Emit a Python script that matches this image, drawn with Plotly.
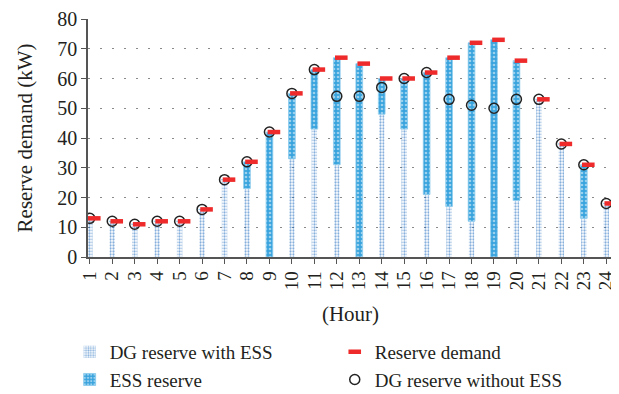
import plotly.graph_objects as go

hours = list(range(1, 25))
hour_labels = [str(h) for h in hours]
reserve_demand = [13, 12, 11, 12, 12, 16, 26, 32, 42, 55, 63, 67, 65, 60, 60, 62, 67, 72, 73, 66, 53, 38, 31, 18]
dg_without_ess = [13, 12, 11, 12, 12, 16, 26, 32, 42, 55, 63, 54, 54, 57, 60, 62, 53, 51, 50, 53, 53, 38, 31, 18]
dg_with_ess = [13, 12, 11, 12, 12, 16, 26, 23, 0, 33, 43, 31, 0, 48, 43, 21, 17, 12, 0, 19, 53, 38, 13, 18]
ess_reserve = [0, 0, 0, 0, 0, 0, 0, 9, 42, 22, 20, 36, 65, 12, 17, 41, 50, 60, 73, 47, 0, 0, 18, 0]

FONT = "Liberation Serif, Times New Roman, serif"
TXT = "#231f20"
dash_shift = 0.2

fig = go.Figure()
fig.add_trace(go.Bar(
    x=hours, y=dg_with_ess, base=0, width=0.24, name="DG reserve with ESS",
    marker=dict(color="rgba(255,255,255,0)", line=dict(width=0),
                pattern=dict(shape=".", fgcolor="#0e5fb8", bgcolor="rgba(255,255,255,0)",
                             size=3, solidity=0.45)),
    legend="legend", legendrank=1, showlegend=True,
))
fig.add_trace(go.Bar(
    x=hours, y=ess_reserve, base=dg_with_ess, width=0.3, name="ESS reserve",
    marker=dict(color="#38a3dd", line=dict(width=0.8, color="#8fcdee"),
                pattern=dict(shape=".", fgcolor="#ffffff", bgcolor="#38a3dd",
                             size=4, solidity=0.35)),
    legend="legend", legendrank=2,
))
fig.add_trace(go.Scatter(
    x=hours, y=dg_without_ess, mode="markers", name="DG reserve without ESS",
    marker=dict(symbol="circle-open", size=10, color="#222222", line=dict(width=1.5, color="#222222")),
    legend="legend2", legendrank=2,
))
fig.add_trace(go.Scatter(
    x=[h + dash_shift for h in hours], y=reserve_demand, mode="markers", name="Reserve demand",
    marker=dict(symbol="line-ew", size=9, color="#ee2a2a", line=dict(width=4.5, color="#ee2a2a")),
    legend="legend2", legendrank=1,
))

fig.update_layout(
    width=619, height=386,
    margin=dict(l=80, r=14, t=11, b=137, autoexpand=False),
    paper_bgcolor="white", plot_bgcolor="white",
    barmode="overlay",
    font=dict(family=FONT, color=TXT, size=19),
    xaxis=dict(
        range=[0.92, 24.3], tickmode="array", tickvals=hours, ticktext=hour_labels,
        tickangle=-90, ticks="outside", ticklen=5, tickcolor="#555", tickwidth=1.2,
        showline=True, linecolor="#555", linewidth=1.5, showgrid=False, zeroline=False,
        tickfont=dict(size=19, family=FONT, color=TXT),
        title=dict(text="(Hour)", font=dict(size=21, family=FONT, color=TXT), standoff=17),
        automargin=False,
    ),
    yaxis=dict(
        range=[0, 80], tickmode="array", tickvals=list(range(0, 81, 10)),
        ticks="outside", ticklen=5, tickcolor="#555", tickwidth=1.2,
        showline=True, linecolor="#555", linewidth=1.5,
        showgrid=True, gridcolor="#8a8a8a", gridwidth=1.2, griddash="2px,10px",
        zeroline=False,
        tickfont=dict(size=20, family=FONT, color=TXT),
        title=dict(text="Reserve demand (kW)", font=dict(size=21, family=FONT, color=TXT), standoff=19),
        automargin=False,
    ),
    legend=dict(x=-0.035, y=-0.319, xanchor="left", yanchor="top", orientation="v",
                font=dict(size=19, family=FONT, color=TXT), bgcolor="rgba(0,0,0,0)",
                itemsizing="trace", tracegroupgap=0),
    legend2=dict(x=0.47, y=-0.319, xanchor="left", yanchor="top", orientation="v",
                 font=dict(size=19, family=FONT, color=TXT), bgcolor="rgba(0,0,0,0)",
                 itemsizing="trace", tracegroupgap=0),
)

fig.write_html("out.html")
